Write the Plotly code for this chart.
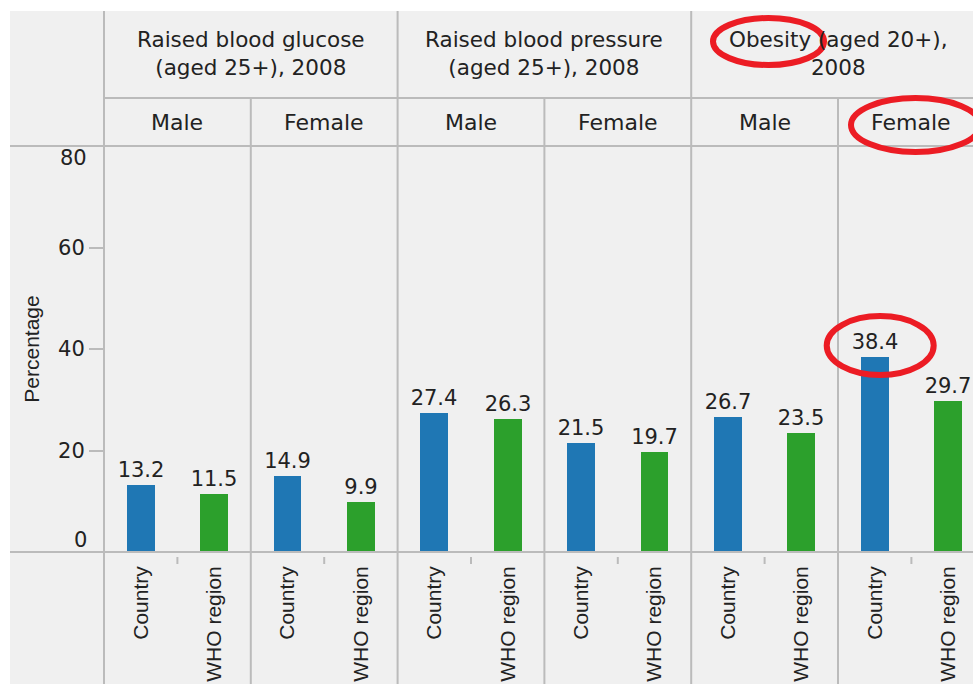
import plotly.graph_objects as go

# ---------------- data ----------------
measure_headers = [
    ["Raised blood glucose", "(aged 25+), 2008"],
    ["Raised blood pressure", "(aged 25+), 2008"],
    ["Obesity (aged 20+),", "2008"],
]
sexes = ["Male", "Female"]
regions = ["Country", "WHO region"]
country_values = [13.2, 14.9, 27.4, 21.5, 26.7, 38.4]
who_values = [11.5, 9.9, 26.3, 19.7, 23.5, 29.7]
y_ticks = [0, 20, 40, 60, 80]

# ---------------- geometry ----------------
W, H = 973, 684
L, R, T, B = 104, 973, 146, 552       # plot area in pixels
COL_PX = 146.8                         # width of one facet column in pixels
x_max = (R - L) / COL_PX               # visible number of columns (right part cropped)

def px2paper(px):
    return (px - L) / (R - L)

def py2paper(py):
    return (B - py) / (B - T)

n_cols = len(country_values)
country_x = [k + 0.25 for k in range(n_cols)]
who_x = [k + 0.75 for k in range(n_cols)]

TEXT = "#222222"
GRID = "#bbbbbb"
BG = "#f0f0f0"
HFONT = "DejaVu Sans"
RFONT = "Liberation Sans"

fig = go.Figure()
fig.add_trace(go.Bar(
    x=country_x, y=country_values, width=0.19, marker_color="#1f77b4",
    marker_line_width=0, text=[f"{v:.1f}" for v in country_values],
    textposition="outside", constraintext="none",
    textfont=dict(family=HFONT, size=21, color=TEXT), showlegend=False,
    name="Country",
))
fig.add_trace(go.Bar(
    x=who_x, y=who_values, width=0.19, marker_color="#2ca02c",
    marker_line_width=0, text=[f"{v:.1f}" for v in who_values],
    textposition="outside", constraintext="none",
    textfont=dict(family=HFONT, size=21, color=TEXT), showlegend=False,
    name="WHO region",
))

shapes = []
# grey background of the whole chart block
shapes.append(dict(type="rect", xref="paper", yref="paper",
                   x0=px2paper(10), x1=1.05, y0=py2paper(H + 5), y1=py2paper(11),
                   fillcolor=BG, line_width=0, layer="below"))

def line(x0, y0, x1, y1):
    shapes.append(dict(type="line", xref="paper", yref="paper",
                       x0=x0, y0=y0, x1=x1, y1=y1,
                       line=dict(color=GRID, width=2)))

# vertical facet lines
for k in range(n_cols + 1):
    xp = k / x_max
    top = 11 if k % 2 == 0 else 98
    line(xp, py2paper(H + 5), xp, py2paper(top))
# horizontal header / baseline lines
line(0, py2paper(98), 1.05, py2paper(98))
line(px2paper(10), py2paper(T), 1.05, py2paper(T))
line(px2paper(10), py2paper(B), 1.05, py2paper(B))
# small ticks between the two bands of each column
for k in range(n_cols):
    xp = (k + 0.5) / x_max
    line(xp, py2paper(557), xp, py2paper(564))

annotations = []
# header row 1 (measures)
for g, (l1, l2) in enumerate(measure_headers):
    xc = (2 * g + 1) / x_max
    annotations.append(dict(text=l1 + "<br>" + l2, x=xc, y=py2paper(53),
                            xref="paper", yref="paper",
                            showarrow=False, xanchor="center", yanchor="middle",
                            align="center",
                            font=dict(family=HFONT, size=21.5, color=TEXT)))
# header row 2 (sex)
for k in range(n_cols):
    annotations.append(dict(text=sexes[k % 2], x=(k + 0.5) / x_max, y=py2paper(123),
                            xref="paper", yref="paper", showarrow=False,
                            xanchor="center", yanchor="middle",
                            font=dict(family=HFONT, size=22, color=TEXT)))
# end tick labels (0 and 80) are shifted inward
annotations.append(dict(text=str(y_ticks[0]), x=0, y=y_ticks[0], xref="paper", yref="y",
                        showarrow=False, xanchor="right", yanchor="middle",
                        xshift=-15, yshift=12,
                        font=dict(family=HFONT, size=21, color=TEXT)))
annotations.append(dict(text=str(y_ticks[-1]), x=0, y=y_ticks[-1], xref="paper", yref="y",
                        showarrow=False, xanchor="right", yanchor="middle",
                        xshift=-15, yshift=-12,
                        font=dict(family=HFONT, size=21, color=TEXT)))

# red hand-drawn highlight ellipses
RED = "#ec1c24"
shapes.append(dict(type="circle", xref="paper", yref="paper",
                   x0=px2paper(713), x1=px2paper(824), y0=py2paper(65), y1=py2paper(18),
                   line=dict(color=RED, width=6)))
shapes.append(dict(type="circle", xref="paper", yref="paper",
                   x0=px2paper(851), x1=px2paper(980), y0=py2paper(152), y1=py2paper(98),
                   line=dict(color=RED, width=6)))
hi = country_values[-1]
px_per_unit = (B - T) / 80
shapes.append(dict(type="circle", xref="x", yref="y",
                   x0=country_x[-1] - 48 / COL_PX, x1=country_x[-1] + 59 / COL_PX,
                   y0=hi - 18 / px_per_unit, y1=hi + 41 / px_per_unit,
                   line=dict(color=RED, width=6)))

fig.update_layout(
    width=W, height=H, autosize=False,
    margin=dict(l=L, r=W - R, t=T, b=H - B, pad=0),
    paper_bgcolor="white", plot_bgcolor=BG,
    shapes=shapes, annotations=annotations,
    bargap=0,
    xaxis=dict(range=[0, x_max], tickvals=country_x + who_x,
               ticktext=[regions[0]] * n_cols + [regions[1]] * n_cols,
               tickangle=-90, ticks="", showline=False, showgrid=False, zeroline=False,
               ticklabelstandoff=9,
               tickfont=dict(family=RFONT, size=21, color=TEXT), fixedrange=True),
    yaxis=dict(range=[0, 80], tickvals=y_ticks,
               ticktext=[""] + [str(v) for v in y_ticks[1:-1]] + [""],
               ticks="outside", ticklen=14, tickwidth=2, tickcolor=GRID,
               showline=False, showgrid=False, zeroline=False,
               tickfont=dict(family=HFONT, size=21, color=TEXT),
               title=dict(text="Percentage", standoff=12,
                          font=dict(family=RFONT, size=21, color=TEXT)),
               fixedrange=True),
)

fig.write_html("out.html", config={"displayModeBar": False},
               post_script="document.body.style.margin='0';document.body.style.overflow='hidden';")
